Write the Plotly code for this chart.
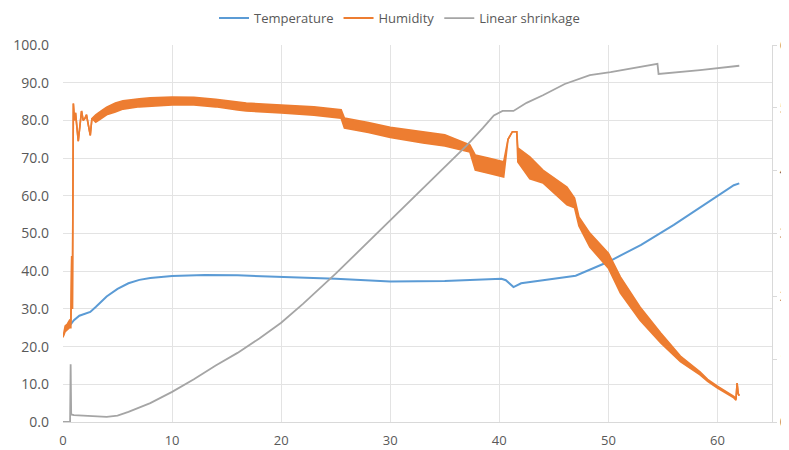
import plotly.graph_objects as go

# ---- Data ----
temp_t = [0.6, 1.0, 1.5, 2.0, 2.5, 3.0, 3.5, 4.0, 5.0, 6.0, 7.0, 8.0, 10, 13, 16, 20, 25, 30, 35,
          40.2, 40.6, 41.3, 42.0, 44.0, 47.0, 50.0, 53.0, 56.0, 59.0, 61.5, 62.0]
temp_v = [25.5, 27.0, 28.2, 28.7, 29.2, 30.5, 32.0, 33.3, 35.3, 36.8, 37.7, 38.2, 38.7, 39.0, 38.9,
          38.5, 38.0, 37.3, 37.4, 38.0, 37.6, 35.8, 36.8, 37.6, 38.8, 42.5, 47.0, 52.3, 58.0, 62.8, 63.3]

hum_t = [0.0, 0.2, 0.4, 0.6, 0.72, 0.8, 0.86, 0.95, 1.05, 1.15, 1.4, 1.55, 1.7, 1.85, 2.0,
         2.15, 2.3, 2.5, 2.65, 3.0, 3.5, 4.0, 4.8, 5.5, 7.0, 8.0, 10, 12, 14, 16, 16.8, 20, 23,
         25.5, 25.8, 28, 30, 33, 35, 37.3, 37.8, 39, 40.3, 40.4, 40.8, 41.2, 41.6, 41.7, 42.8,
         44, 46.2, 46.9, 47.3, 48.3, 50, 51.1, 52.9, 54.8, 56.6, 58.4, 59.1, 60, 61.5, 61.7,
         61.8, 61.9, 62]
hum_hi = [22.5, 25.5, 26.0, 27.0, 26.5, 44.0, 30.0, 84.5, 80.0, 82.0, 74.5, 79.0, 82.5, 80.0,
          80.5, 81.5, 79.0, 76.0, 80.5, 81.5, 82.5, 83.5, 84.6, 85.2, 85.7, 86.0, 86.2, 86.1,
          85.6, 84.9, 84.6, 84.1, 83.6, 82.8, 80.6, 79.4, 78.2, 77.0, 76.2, 73.5, 70.8, 70.0,
          69.0, 69.0, 75.0, 77.0, 77.0, 72.7, 70.3, 66.8, 62.3, 59.4, 54.4, 50.1, 44.8, 38.5,
          30.5, 23.6, 17.5, 13.3, 11.3, 9.5, 6.8, 6.2, 10.3, 7.5, 7.0]
hum_lo = [22.5, 24.0, 24.5, 25.0, 25.0, 44.0, 30.0, 84.5, 80.0, 82.0, 74.5, 79.0, 82.5, 80.0,
          80.5, 81.5, 79.0, 76.0, 80.5, 79.5, 80.5, 81.5, 82.2, 83.0, 83.6, 83.8, 84.1, 84.1,
          83.6, 82.8, 82.5, 82.0, 81.4, 80.6, 78.0, 76.8, 75.5, 74.0, 73.2, 71.6, 66.8, 66.0,
          65.0, 65.0, 75.0, 77.0, 77.0, 69.0, 64.5, 63.4, 57.6, 56.8, 52.0, 46.4, 40.8, 34.2,
          27.0, 21.0, 16.0, 12.5, 10.8, 9.0, 6.4, 5.8, 10.3, 7.5, 7.0]

shr_t = [0, 0.65, 0.7, 0.75, 1.0, 2.0, 3.0, 4.0, 5.0, 6.0, 8.0, 10, 12, 14, 16, 18, 20, 22, 25,
         28, 30, 34, 37, 38.5, 39.5, 40.3, 41.3, 42.5, 44, 46, 48.3, 50.2, 52.3, 54.5, 54.6,
         56, 58.4, 62]
shr_v = [0, 0, 0.92, 0.12, 0.11, 0.10, 0.08, 0.08, 0.10, 0.16, 0.30, 0.48, 0.68, 0.90, 1.10,
         1.33, 1.58, 1.88, 2.36, 2.87, 3.20, 3.88, 4.40, 4.68, 4.88, 4.95, 4.95, 5.08, 5.20,
         5.38, 5.52, 5.57, 5.63, 5.70, 5.54, 5.56, 5.60, 5.67]

x_ticks = [0, 10, 20, 30, 40, 50, 60]

BLUE = "#5B9BD5"
ORANGE = "#ED7D31"
GREY = "#A5A5A5"
TXT = "#595959"
GRID = "#E3E3E3"
FONT = "Open Sans, Lato, sans-serif"

fig = go.Figure()
fig.add_trace(go.Scatter(x=temp_t, y=temp_v, mode="lines", name="Temperature",
                         line=dict(color=BLUE, width=2)))
fig.add_trace(go.Scatter(x=hum_t, y=hum_lo, mode="lines", showlegend=False,
                         line=dict(color=ORANGE, width=1.6)))
fig.add_trace(go.Scatter(x=hum_t, y=hum_hi, mode="lines", showlegend=False,
                         fill="tonexty", fillcolor=ORANGE,
                         line=dict(color=ORANGE, width=1.6)))
# legend entry for humidity (line symbol)
fig.add_trace(go.Scatter(x=[None], y=[None], mode="lines", name="Humidity",
                         line=dict(color=ORANGE, width=2)))
fig.add_trace(go.Scatter(x=shr_t, y=shr_v, mode="lines", name="Linear shrinkage",
                         yaxis="y2", line=dict(color=GREY, width=1.8)))

fig.update_layout(
    width=781, height=442,
    margin=dict(l=55, r=17, t=37, b=28, autoexpand=False),
    paper_bgcolor="white", plot_bgcolor="white",
    font=dict(family=FONT, size=13, color=TXT),
    showlegend=True,
    legend=dict(orientation="h", traceorder="normal",
                xref="container", x=0.5013, xanchor="center",
                yref="container", y=0.977, yanchor="middle",
                font=dict(size=13, color=TXT), bgcolor="rgba(0,0,0,0)"),
    xaxis=dict(range=[0, 65], tickvals=x_ticks, showgrid=True, gridcolor=GRID,
               zeroline=False, showline=True, linecolor="#D9D9D9", ticks="",
               ticklabelstandoff=6, automargin=False, tickfont=dict(size=13, color=TXT)),
    yaxis=dict(range=[0, 100], dtick=10, tickformat=".1f", showgrid=True, gridcolor=GRID,
               zeroline=False, showline=False, ticks="", ticklabelstandoff=13,
               automargin=False, tickfont=dict(size=14, color=TXT)),
    yaxis2=dict(range=[0, 6], dtick=1, overlaying="y", side="right", showgrid=False,
                zeroline=False, showline=True, linecolor="#D9D9D9", ticks="outside",
                ticklen=4, tickcolor="#D9D9D9", automargin=False,
                tickfont=dict(size=14, color=TXT)),
)

fig.write_html("out.html")
